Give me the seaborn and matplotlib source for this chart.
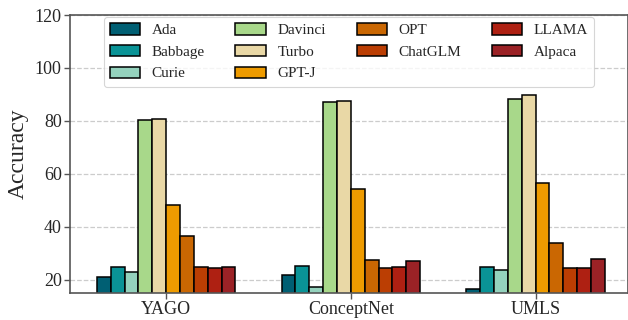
import matplotlib
matplotlib.use("Agg")
import matplotlib.pyplot as plt
import seaborn as sns
import pandas as pd

datasets = ["YAGO", "ConceptNet", "UMLS"]
models = ["Ada", "Babbage", "Curie", "Davinci", "Turbo", "GPT-J", "OPT", "ChatGLM", "LLAMA", "Alpaca"]
yago = [21.2, 24.8, 23.0, 80.2, 80.8, 48.3, 36.5, 25.0, 24.4, 24.8]
conceptnet = [21.8, 25.3, 17.2, 87.0, 87.4, 54.3, 27.3, 24.5, 24.8, 27.0]
umls = [16.5, 24.9, 23.5, 88.2, 89.6, 56.6, 33.8, 24.4, 24.4, 27.9]
colors = ["#005f73", "#0a9396", "#94d2bd", "#a8d88a", "#e9d8a6", "#ee9b00",
          "#ca6702", "#bb3e03", "#ae2012", "#9b2226"]

rows = []
for ds, vals in zip(datasets, [yago, conceptnet, umls]):
    for m, v in zip(models, vals):
        rows.append({"Dataset": ds, "Model": m, "Accuracy": v})
df = pd.DataFrame(rows)

sns.set_theme(style="white")
plt.rcParams["font.family"] = ["Liberation Serif", "DejaVu Serif"]

fig = plt.figure(figsize=(6.28, 3.2), dpi=100)
ax = fig.add_axes([0.1115, 0.0844, 0.8885, 0.8687])

sns.barplot(data=df, x="Dataset", y="Accuracy", hue="Model", hue_order=models,
            order=datasets, palette=colors, width=0.75, gap=0, saturation=1,
            edgecolor="black", linewidth=1.1, errorbar=None, ax=ax)

ax.set_ylim(15, 120)
ax.set_xlim(-0.52, 2.5)
ax.set_yticks([20, 40, 60, 80, 100, 120])
ax.yaxis.grid(True, linestyle="--", color="#cccccc", linewidth=0.9)
ax.set_axisbelow(True)
ax.set_xlabel("")
ax.set_ylabel("Accuracy", fontsize=17, labelpad=4)
ax.tick_params(axis="both", labelsize=13, length=4, width=1, color="#555555",
               direction="out", bottom=True, left=True, pad=2)
for s in ax.spines.values():
    s.set_color("#555555")
    s.set_linewidth(1.2)

leg = ax.legend(ncol=4, loc="upper center", bbox_to_anchor=(0.5, 1.0),
                fontsize=11, frameon=True, fancybox=True, edgecolor="#cccccc",
                handlelength=2.0, handleheight=0.75, columnspacing=2.0,
                labelspacing=0.5, borderpad=0.4, borderaxespad=0.15,
                handletextpad=0.75)
leg.get_frame().set_linewidth(0.8)

fig.savefig("out.png", dpi=100)
